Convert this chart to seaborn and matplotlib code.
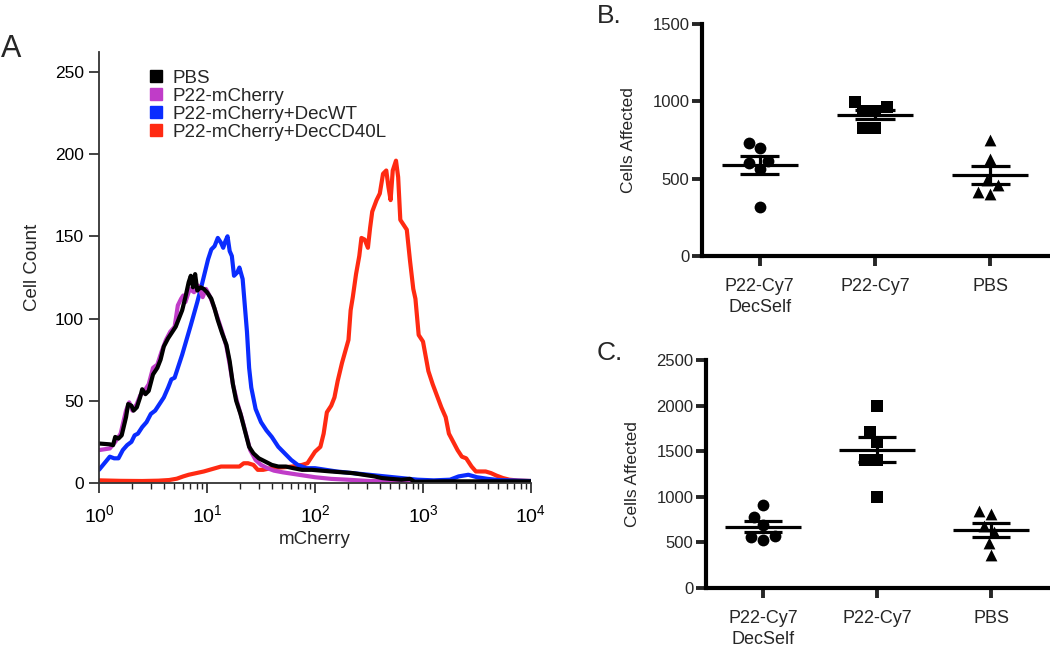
import numpy as np
import pandas as pd
import matplotlib.pyplot as plt
from matplotlib.lines import Line2D
import seaborn as sns

# ----------------------------------------------------
# Panel A data: flow histograms (log10 mCherry vs cell count)
# ----------------------------------------------------
pbs_log = [0.00, 0.10, 0.13, 0.15, 0.18, 0.21, 0.25, 0.27, 0.30, 0.32, 0.35, 0.38, 0.40, 0.43,
           0.46, 0.50, 0.54, 0.57, 0.60, 0.64, 0.67, 0.71, 0.74, 0.77, 0.80, 0.83, 0.85, 0.87,
           0.89, 0.91, 0.94, 0.97, 1.00, 1.04, 1.07, 1.10, 1.14, 1.18, 1.21, 1.24, 1.27, 1.31,
           1.35, 1.39, 1.43, 1.48, 1.54, 1.60, 1.66, 1.73, 1.80, 1.88, 1.97, 2.06, 2.15, 2.25,
           2.35, 2.45, 2.55, 2.62, 2.70, 2.80, 2.88, 2.92, 3.00, 3.20, 3.40, 3.60, 3.80, 4.00]
pbs_count = [24, 23.5, 23, 28, 27, 29, 40, 48, 47, 44, 46, 52, 57, 54,
             56, 66, 70, 75, 83, 88, 91, 95, 100, 105, 113, 122, 126, 119,
             127, 117, 119, 118, 116, 112, 106, 99, 91, 84, 74, 60, 50, 42,
             32, 22, 18, 15, 13, 11, 10, 10, 9, 8, 8, 7.5, 7, 6.5,
             6, 5, 4, 3, 2.5, 2, 2.5, 0.8, 0.8, 1, 1, 1, 1, 1]

mch_log = [0.00, 0.10, 0.15, 0.20, 0.25, 0.28, 0.31, 0.35, 0.38, 0.42, 0.46, 0.50, 0.54, 0.58,
           0.62, 0.66, 0.70, 0.73, 0.76, 0.78, 0.80, 0.84, 0.88, 0.92, 0.96, 0.99, 1.03, 1.07,
           1.10, 1.14, 1.18, 1.21, 1.24, 1.28, 1.32, 1.36, 1.40, 1.45, 1.50, 1.56, 1.62, 1.70,
           1.80, 1.90, 2.00, 2.15, 2.30, 2.50, 2.70, 3.00, 3.50, 4.00]
mch_count = [20, 21, 25, 30, 44, 49, 44, 48, 53, 56, 60, 70, 72, 80,
             87, 92, 95, 108, 112, 114, 110, 118, 116, 120, 113, 118, 113, 106,
             100, 92, 83, 72, 60, 49, 40, 30, 20, 14, 11, 9, 7.5, 6.5,
             5.5, 4.5, 3.5, 2.5, 2, 1.2, 1, 0.5, 0.5, 0.5]

wt_log = [0.00, 0.05, 0.10, 0.14, 0.18, 0.22, 0.26, 0.30, 0.33, 0.36, 0.40, 0.44, 0.48, 0.52,
          0.56, 0.60, 0.64, 0.67, 0.70, 0.73, 0.77, 0.81, 0.85, 0.88, 0.91, 0.95, 0.98, 1.01,
          1.04, 1.07, 1.10, 1.13, 1.15, 1.17, 1.19, 1.21, 1.23, 1.25, 1.28, 1.30, 1.33, 1.35,
          1.37, 1.39, 1.41, 1.45, 1.50, 1.55, 1.60, 1.66, 1.72, 1.78, 1.84, 1.92, 2.00, 2.10,
          2.20, 2.35, 2.50, 2.65, 2.80, 2.95, 3.10, 3.25, 3.33, 3.42, 3.50, 3.60, 3.70, 3.85, 4.00]
wt_count = [8, 12, 16, 15, 15, 20, 23, 25, 29, 30, 34, 37, 42, 44,
            48, 52, 58, 63, 64, 70, 78, 87, 96, 103, 110, 120, 128, 136,
            142, 144, 149, 146, 143, 147, 150, 141, 138, 126, 128, 131, 124, 108,
            92, 70, 58, 45, 37, 32, 28, 22, 18, 14, 11, 9, 9, 8,
            7, 6, 5, 4, 3, 2, 1.6, 2, 4, 5, 3.5, 2.5, 1.8, 1.5, 1.2]

cd40_log = [0.00, 0.20, 0.40, 0.55, 0.65, 0.72, 0.78, 0.83, 0.90, 0.97, 1.05, 1.13, 1.22, 1.30,
            1.34, 1.38, 1.43, 1.47, 1.52, 1.59, 1.70, 1.79, 1.88, 1.93, 1.97, 2.00, 2.05, 2.08,
            2.11, 2.15, 2.18, 2.21, 2.25, 2.28, 2.31, 2.33, 2.35, 2.38, 2.41, 2.43, 2.46, 2.49,
            2.51, 2.53, 2.57, 2.60, 2.63, 2.66, 2.68, 2.70, 2.72, 2.75, 2.77, 2.79, 2.82, 2.85,
            2.88, 2.91, 2.93, 2.96, 3.00, 3.05, 3.09, 3.13, 3.17, 3.21, 3.24, 3.28, 3.32, 3.36,
            3.40, 3.45, 3.49, 3.53, 3.58, 3.63, 3.68, 3.74, 3.80, 3.88, 4.00]
cd40_count = [1.6, 1.3, 1.2, 1.4, 1.8, 2.6, 4, 5, 6, 7, 8.5, 10, 10, 10,
              12, 12, 11, 8, 8, 9, 9.5, 10, 11, 12, 16, 19, 22, 30,
              43, 47, 52, 62, 73, 80, 87, 105, 113, 127, 138, 149, 148, 143,
              155, 165, 172, 176, 188, 190, 180, 172, 190, 196, 186, 160, 157, 154,
              135, 118, 112, 90, 86, 68, 60, 53, 46, 40, 30, 25, 20, 16,
              15, 10, 7, 7, 7, 6, 4.5, 3, 2, 1.5, 1.2]

series_names = ["PBS", "P22-mCherry", "P22-mCherry+DecWT", "P22-mCherry+DecCD40L"]
series_colors = ["#000000", "#C03CC8", "#0A2CFF", "#FF2A12"]

# ----------------------------------------------------
# Panels B and C data: cells affected per mouse
# ----------------------------------------------------
groups = ["P22-Cy7\nDecSelf", "P22-Cy7", "PBS"]
group_markers = ["o", "s", "^"]
b_decself = [733, 696, 603, 614, 560, 319]
b_cy7 = [998, 937, 937, 965, 825, 825]
b_pbs = [750, 625, 460, 490, 400, 415]
c_decself = [913, 777, 694, 573, 529, 555]
c_cy7 = [2000, 1705, 1599, 1398, 1398, 993]
c_pbs = [810, 840, 683, 610, 493, 365]

sns.set_theme(style="ticks")
plt.rcParams['font.family'] = ['Liberation Sans', 'DejaVu Sans']
plt.rcParams['mathtext.fontset'] = 'custom'
plt.rcParams['mathtext.rm'] = 'Liberation Sans'

fig = plt.figure(figsize=(10.5, 6.47), dpi=100)

# ---------------- Panel A ----------------
axA = fig.add_axes([0.0943, 0.2535, 0.4114, 0.666])
curves = [(cd40_log, cd40_count, 3), (wt_log, wt_count, 2),
          (mch_log, mch_count, 1), (pbs_log, pbs_count, 0)]
for logs, counts, idx in curves:
    sns.lineplot(x=10 ** np.array(logs), y=counts, color=series_colors[idx],
                 linewidth=3.0, estimator=None, sort=False, ax=axA)
axA.set_xscale('log')
axA.set_xlim(1, 1e4)
axA.set_ylim(0, 262)
axA.set_yticks([0, 50, 100, 150, 200, 250])
axA.set_xlabel('mCherry', fontsize=13.5, labelpad=3)
axA.set_ylabel('Cell Count', fontsize=13.5, labelpad=10)
axA.tick_params(axis='both', which='major', direction='out', length=7.5, width=1.2,
                labelsize=12.5, colors='#222222', labelcolor='black')
axA.tick_params(axis='x', which='major', labelsize=14, pad=8)
axA.tick_params(axis='x', which='minor', direction='out', length=4, width=1.0, colors='#222222')
for side in ['left', 'bottom']:
    axA.spines[side].set_linewidth(1.3)
    axA.spines[side].set_color('#333333')
sns.despine(ax=axA)

handles = [Line2D([], [], marker='s', linestyle='', color=c, markersize=9) for c in series_colors]
axA.legend(handles, series_names, loc='upper left', bbox_to_anchor=(0.08, 0.99), frameon=False,
           fontsize=13.5, handletextpad=0.35, labelspacing=0.05, handlelength=1.0, borderaxespad=0.3)

# ---------------- Panels B and C ----------------
def scatter_panel(ax, values, ymax, yticks):
    df = pd.DataFrame({
        'group': np.repeat(groups, [len(v) for v in values]),
        'value': np.concatenate(values),
    })
    for g, m in zip(groups, group_markers):
        sns.swarmplot(data=df[df['group'] == g], x='group', y='value', order=groups,
                      marker=m, color='black', size=8.5, ax=ax, zorder=3)
    stats = df.groupby('group', sort=False)['value'].agg(['mean', 'sem']).reindex(groups)
    for i, (mean, sem) in enumerate(zip(stats['mean'], stats['sem'])):
        ax.hlines(mean, i - 0.33, i + 0.33, color='black', lw=2.3, zorder=4)
        ax.hlines([mean - sem, mean + sem], i - 0.17, i + 0.17, color='black', lw=2.3, zorder=4)
        ax.vlines(i, mean - sem, mean + sem, color='black', lw=2.3, zorder=4)
    ax.set_xlim(-0.5, 2.5)
    ax.set_ylim(0, ymax)
    ax.set_yticks(yticks)
    ax.set_xlabel('')
    ax.set_ylabel('Cells Affected', fontsize=12.5, labelpad=12)
    ax.tick_params(axis='both', direction='out', length=7, width=2.8, labelsize=12, pad=2)
    ax.tick_params(axis='x', labelsize=13, pad=9)
    for lbl in ax.get_xticklabels():
        lbl.set_linespacing(1.3)
    for side in ['left', 'bottom']:
        ax.spines[side].set_linewidth(3)
        ax.spines[side].set_color('black')
    sns.despine(ax=ax)

axB = fig.add_axes([0.6686, 0.6043, 0.3295, 0.3586])
scatter_panel(axB, [b_decself, b_cy7, b_pbs], 1500, [0, 500, 1000, 1500])

axC = fig.add_axes([0.6724, 0.0912, 0.3257, 0.3524])
scatter_panel(axC, [c_decself, c_cy7, c_pbs], 2500, [0, 500, 1000, 1500, 2000, 2500])

fig.text(0.001, 0.912, 'A', fontsize=22, ha='left', va='baseline')
fig.text(0.568, 0.964, 'B.', fontsize=19, ha='left', va='baseline')
fig.text(0.568, 0.444, 'C.', fontsize=19, ha='left', va='baseline')

plt.savefig('out.png', dpi=100)
plt.close()
